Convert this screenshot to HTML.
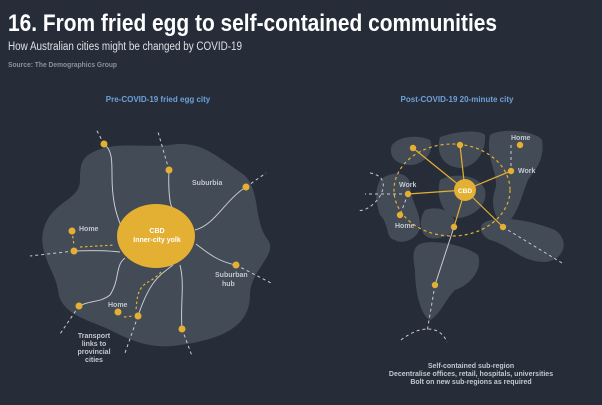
<!DOCTYPE html>
<html><head><style>
body{margin:0;width:602px;height:400px;background:#262d39;overflow:hidden;font-family:"Liberation Sans",sans-serif}
</style></head><body>
<svg width="602" height="400" viewBox="0 0 602 400" xmlns="http://www.w3.org/2000/svg" font-family="Liberation Sans, sans-serif">
<rect width="602" height="400" fill="#262d39"/>
<text x="8" y="31" fill="#fff" font-size="24" font-weight="bold" textLength="489" lengthAdjust="spacingAndGlyphs">16. From fried egg to self-contained communities</text>
<text x="8" y="50" fill="#dde1e6" font-size="11.5" textLength="234" lengthAdjust="spacingAndGlyphs">How Australian cities might be changed by COVID-19</text>
<text x="8" y="67" fill="#8a919b" font-size="7.5" font-weight="bold" textLength="109" lengthAdjust="spacingAndGlyphs">Source: The Demographics Group</text>
<text x="158" y="102" fill="#6ea0d6" font-size="8" font-weight="bold" text-anchor="middle">Pre-COVID-19 fried egg city</text>
<text x="457" y="102" fill="#6ea0d6" font-size="8" font-weight="bold" text-anchor="middle">Post-COVID-19 20-minute city</text>
<path d="M88,155 C110,140 140,148 170,145 C200,140 215,155 240,172 C262,185 252,220 268,240 C278,255 250,270 250,295 C250,330 215,340 180,345 C150,350 130,340 110,330 C90,320 60,315 58,290 C55,270 35,250 45,225 C55,200 80,200 80,180 C80,165 82,160 88,155Z" fill="#434b56"/>
<g stroke="#c9ccd1" stroke-width="1" fill="none">
<path d="M104,144 C112,150 112,160 112,175 C112,200 116,215 122,228"/>
<path d="M169,170 C168,190 170,205 172,207"/>
<path d="M246,187 C225,200 215,225 195,230"/>
<path d="M196,244 C210,255 220,262 236,265"/>
<path d="M180,265 C185,285 180,305 182,329"/>
<path d="M173,265 C160,275 150,280 138,316"/>
<path d="M125,258 C115,265 120,280 110,295 C100,303 90,300 79,306"/>
<path d="M74,251 C100,250 110,251 120,252"/>
</g>
<g stroke="#c9ccd1" stroke-width="1" fill="none" stroke-dasharray="3,3">
<path d="M104,144 L96,129"/><path d="M169,170 L158,132"/><path d="M246,187 L266,173"/><path d="M236,265 L271,283"/><path d="M182,329 L192,356"/><path d="M138,316 L125,353"/><path d="M79,306 L60,334"/><path d="M74,251 L30,256"/>
</g>
<g stroke="#e3b033" stroke-width="1.2" fill="none" stroke-dasharray="2.5,2.5">
<path d="M72,231 L74,245"/><path d="M80,247 L115,245"/>
<path d="M161,272 C150,285 140,280 137,300 L136,310"/><path d="M124,317 L133,316"/>
</g>
<ellipse cx="156" cy="236" rx="39" ry="32" fill="#e3b033"/>
<text x="157" y="233" fill="#fff" font-size="7" font-weight="bold" text-anchor="middle">CBD</text>
<text x="157" y="242" fill="#fff" font-size="7" font-weight="bold" text-anchor="middle">Inner-city yolk</text>
<g fill="#e3b033">
<circle cx="104" cy="144" r="3.5"/><circle cx="169" cy="170" r="3.5"/><circle cx="246" cy="187" r="3.5"/><circle cx="236" cy="265" r="3.5"/><circle cx="182" cy="329" r="3.5"/><circle cx="138" cy="316" r="3.5"/><circle cx="118" cy="312" r="3.5"/><circle cx="79" cy="306" r="3.5"/><circle cx="74" cy="251" r="3.5"/><circle cx="72" cy="231" r="3.5"/>
</g>
<g fill="#c2c7ce" font-size="7" font-weight="bold">
<text x="192" y="185">Suburbia</text><text x="79" y="231">Home</text>
<text x="215" y="277">Suburban</text><text x="222" y="286">hub</text>
<text x="108" y="307">Home</text>
<text x="94" y="338" text-anchor="middle">Transport</text><text x="94" y="346" text-anchor="middle">links to</text><text x="94" y="354" text-anchor="middle">provincial</text><text x="94" y="362" text-anchor="middle">cities</text>
</g>
<g fill="#434b56">
<path d="M392,145 C400,135 420,135 430,140 C435,150 425,165 410,165 C395,165 388,155 392,145Z"/>
<path d="M440,137 C460,130 480,130 485,135 C486,150 478,165 462,168 C445,168 435,155 440,137Z"/>
<path d="M490,135 C500,128 535,130 542,140 C545,160 535,170 528,180 C520,200 518,215 505,225 C495,220 490,205 495,190 C500,175 485,160 490,135Z"/>
<path d="M380,180 C392,170 410,172 410,185 C410,200 420,210 420,225 C420,240 400,245 395,240 C385,238 390,225 380,215 C375,200 375,190 380,180Z"/>
<path d="M440,180 C455,172 480,175 485,190 C488,205 475,215 460,218 C445,218 435,200 440,180Z"/>
<path d="M425,210 C440,205 455,212 455,225 C455,235 440,240 430,238 C420,236 418,220 425,210Z"/>
<path d="M485,222 C500,215 530,220 555,230 C570,240 565,260 545,262 C520,262 510,245 490,240 C480,235 478,226 485,222Z"/>
<path d="M418,245 C430,238 465,245 478,255 C483,270 470,285 455,290 C445,300 440,315 430,320 C420,315 415,290 415,270 C413,260 412,250 418,245Z"/>
</g>
<g stroke="#c9ccd1" stroke-width="1" fill="none" stroke-dasharray="3,3">
<path d="M408,194 L365,194"/><path d="M370,173 C400,178 372,215 357,210"/>
<path d="M503,227 L562,263"/><path d="M435,285 L427,332"/><path d="M401,340 C420,325 440,325 447,342"/>
<path d="M511,145 L511,171"/><path d="M408,194 L400,215"/>
</g>
<line x1="454" y1="227" x2="435" y2="285" stroke="#c9ccd1" stroke-width="1"/>
<ellipse cx="452" cy="190" rx="58" ry="46" fill="none" stroke="#e3b033" stroke-width="1.2" stroke-dasharray="3,3"/>
<g stroke="#e3b033" stroke-width="1.2">
<line x1="465" y1="190" x2="408" y2="194"/><line x1="465" y1="190" x2="413" y2="148"/><line x1="465" y1="190" x2="460" y2="145"/><line x1="465" y1="190" x2="511" y2="171"/><line x1="465" y1="190" x2="503" y2="227"/><line x1="465" y1="190" x2="454" y2="227"/>
</g>
<circle cx="465" cy="190" r="11" fill="#e3b033"/>
<text x="465" y="193" fill="#fff" font-size="6.5" font-weight="bold" text-anchor="middle">CBD</text>
<g fill="#e3b033">
<circle cx="408" cy="194" r="3.2"/><circle cx="400" cy="215" r="3.2"/><circle cx="413" cy="148" r="3.2"/><circle cx="460" cy="145" r="3.2"/><circle cx="520" cy="145" r="3.2"/><circle cx="511" cy="171" r="3.2"/><circle cx="503" cy="227" r="3.2"/><circle cx="454" cy="227" r="3.2"/><circle cx="435" cy="285" r="3.2"/>
</g>
<g fill="#c2c7ce" font-size="7" font-weight="bold">
<text x="399" y="187">Work</text><text x="395" y="228">Home</text><text x="511" y="140">Home</text><text x="518" y="173">Work</text>
<text x="471" y="368" text-anchor="middle">Self-contained sub-region</text>
<text x="471" y="376" text-anchor="middle">Decentralise offices, retail, hospitals, universities</text>
<text x="471" y="384" text-anchor="middle">Bolt on new sub-regions as required</text>
</g>
</svg>
</body></html>
